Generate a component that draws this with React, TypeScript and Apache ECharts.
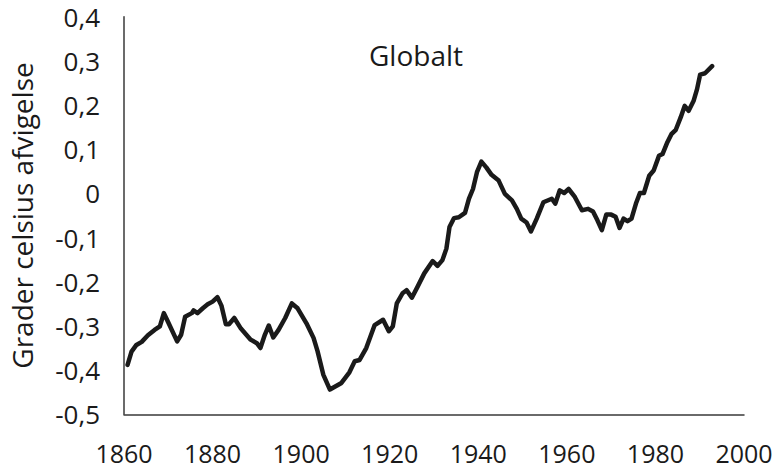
import React, { useEffect, useRef } from "react";
import * as echarts from "echarts";

const years = [
  1860.8, 1861.7, 1862.8, 1864.0, 1865.4, 1866.9, 1868.1, 1869.0, 1869.9, 1872.0,
  1872.9, 1873.8, 1875.3, 1875.7, 1876.6, 1877.8, 1878.9, 1880.0, 1881.1, 1882.0,
  1883.0, 1883.7, 1884.9, 1886.4, 1888.6, 1890.0, 1890.8, 1891.8, 1892.7, 1893.7,
  1894.9, 1896.4, 1897.9, 1899.2, 1901.2, 1902.8, 1903.7, 1905.0, 1906.5, 1909.1,
  1910.9, 1912.1, 1913.2, 1914.7, 1916.6, 1918.5, 1919.8, 1920.7, 1921.6, 1922.9,
  1923.8, 1925.0, 1926.3, 1927.8, 1929.7, 1930.8, 1931.9, 1932.8, 1933.5, 1934.5,
  1935.6, 1937.0, 1937.9, 1938.8, 1939.7, 1940.7, 1941.8, 1943.0, 1944.6, 1946.0,
  1947.6, 1948.7, 1949.7, 1950.9, 1951.9, 1953.2, 1954.7, 1956.6, 1957.4, 1958.4,
  1959.4, 1960.4, 1961.8, 1963.4, 1964.8, 1965.9, 1966.9, 1967.9, 1968.9, 1970.0,
  1971.0, 1971.9, 1972.8, 1973.7, 1974.6, 1975.6, 1976.5, 1977.4, 1978.6, 1979.6,
  1980.8, 1981.6, 1982.7, 1983.6, 1984.6, 1985.7, 1986.6, 1987.5, 1988.6, 1989.4,
  1990.1, 1991.2, 1992.8,
];

const deviations = [
  -0.388, -0.358, -0.343, -0.336, -0.321, -0.309, -0.301, -0.271, -0.29, -0.335,
  -0.32, -0.279, -0.271, -0.265, -0.271, -0.26, -0.251, -0.245, -0.235, -0.254,
  -0.296, -0.296, -0.282, -0.306, -0.331, -0.339, -0.35, -0.32, -0.299, -0.326,
  -0.309, -0.282, -0.249, -0.26, -0.294, -0.327, -0.357, -0.41, -0.444, -0.429,
  -0.405, -0.38, -0.377, -0.35, -0.298, -0.286, -0.312, -0.301, -0.249, -0.226,
  -0.219, -0.236, -0.211, -0.181, -0.153, -0.164, -0.151, -0.125, -0.076, -0.056,
  -0.054, -0.044, -0.012, 0.01, 0.048, 0.072, 0.059, 0.042, 0.029, -0.001,
  -0.016, -0.035, -0.057, -0.066, -0.086, -0.057, -0.02, -0.012, -0.023, 0.007,
  0.001, 0.01, -0.008, -0.038, -0.035, -0.041, -0.061, -0.083, -0.048, -0.048,
  -0.053, -0.078, -0.057, -0.063, -0.057, -0.023, 0.001, 0.001, 0.04, 0.052,
  0.085, 0.089, 0.116, 0.134, 0.144, 0.172, 0.198, 0.187, 0.209, 0.236,
  0.269, 0.272, 0.288,
];

const xMin = 1860;
const xMax = 2000;
const xStep = 20;
const yMin = -0.5;
const yMax = 0.4;
const yStep = 0.1;

const chartTitle = "Globalt";
const yAxisTitle = "Grader celsius afvigelse";

const FONT = "'Open Sans', 'Noto Sans', sans-serif";
const INK = "#1a1a1a";

export default function App() {
  const ref = useRef<HTMLDivElement>(null);

  useEffect(() => {
    if (!ref.current) return;
    const chart = echarts.init(ref.current, undefined, { renderer: "svg" });
    const points = years.map((y, i) => [y, deviations[i]]);
    chart.setOption({
      animation: false,
      backgroundColor: "#ffffff",
      textStyle: { fontFamily: FONT },
      title: {
        text: chartTitle,
        left: 364,
        top: 36,
        textStyle: { fontFamily: FONT, fontSize: 28, fontWeight: "normal", color: INK },
      },
      grid: { left: 119, right: 35, top: 16.7, bottom: 54.7, containLabel: false },
      xAxis: {
        type: "value",
        min: xMin,
        max: xMax,
        interval: xStep,
        axisLine: { show: true, onZero: false, lineStyle: { color: "#3a3a3a", width: 1.5 } },
        axisTick: { show: false },
        splitLine: { show: false },
        axisLabel: {
          fontFamily: FONT,
          fontSize: 25,
          lineHeight: 21,
          color: INK,
          margin: 28,
          formatter: (v: number) => String(Math.round(v)),
        },
      },
      yAxis: {
        type: "value",
        min: yMin,
        max: yMax,
        interval: yStep,
        name: yAxisTitle,
        nameLocation: "middle",
        nameRotate: 90,
        nameGap: 88,
        nameTextStyle: { fontFamily: FONT, fontSize: 28, color: INK },
        axisLine: { show: true, onZero: false, lineStyle: { color: "#3a3a3a", width: 1.5 } },
        axisTick: { show: false },
        splitLine: { show: false },
        axisLabel: {
          fontFamily: FONT,
          fontSize: 26,
          color: INK,
          margin: 24,
          formatter: (v: number) => {
            const r = Math.round(v * 10) / 10;
            if (r === 0) return "0";
            return r.toFixed(1).replace(".", ",");
          },
        },
      },
      series: [
        {
          type: "line",
          data: points,
          showSymbol: false,
          symbol: "none",
          lineStyle: { color: INK, width: 4.5, join: "round", cap: "round" },
          z: 3,
        },
      ],
    });
    return () => chart.dispose();
  }, []);

  return (
    <div
      ref={ref}
      style={{ position: "fixed", left: 0, top: 0, width: 779, height: 469, background: "#fff" }}
    />
  );
}
